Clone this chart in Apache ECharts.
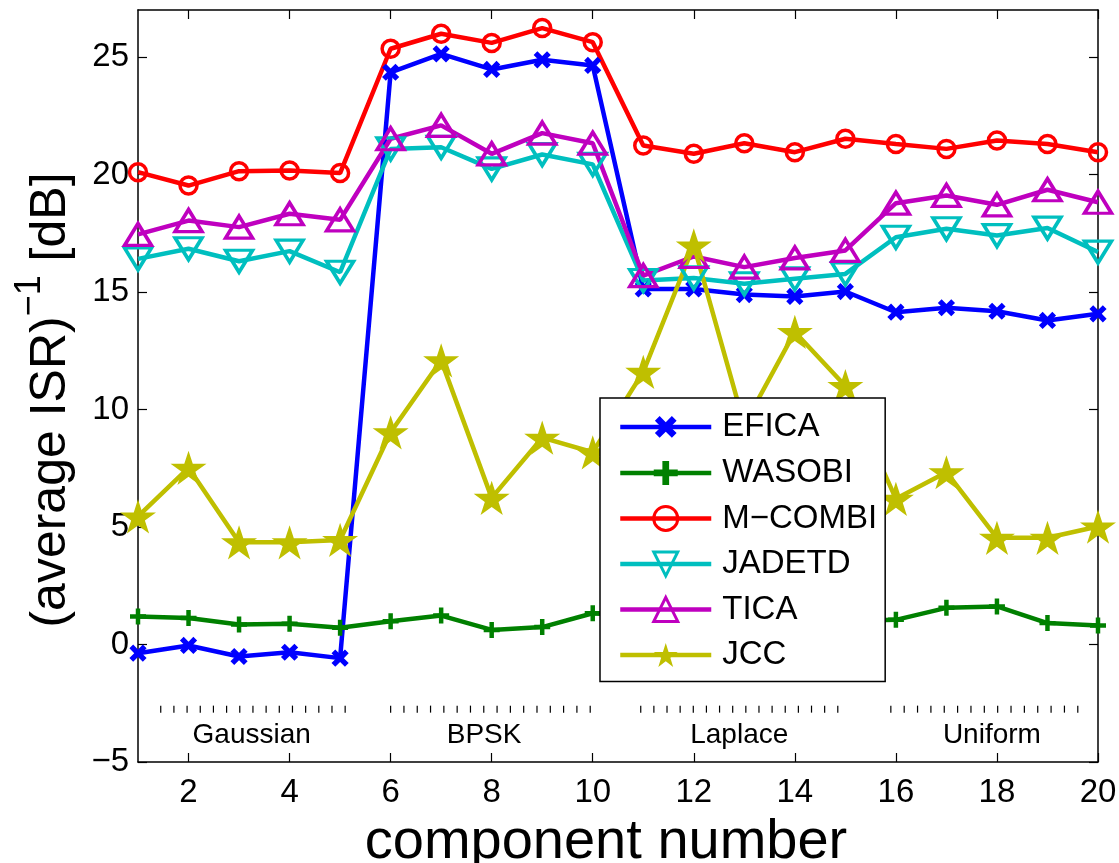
<!DOCTYPE html>
<html>
<head>
<meta charset="utf-8">
<script src="https://cdn.jsdelivr.net/npm/echarts@6/dist/echarts.min.js"></script>
<style>
html,body{margin:0;padding:0;background:#fff;}
#chart{width:1119px;height:863px;}
</style>
</head>
<body>
<div id="chart"></div>
<script>
// ---- data ----
const components = [1,2,3,4,5,6,7,8,9,10,11,12,13,14,15,16,17,18,19,20];
const EFICA  = [-0.37,-0.04,-0.51,-0.33,-0.58,24.35,25.13,24.47,24.88,24.64,15.13,15.13,14.89,14.81,15.02,14.14,14.33,14.18,13.79,14.07];
const WASOBI = [1.19,1.13,0.85,0.88,0.71,0.99,1.23,0.62,0.74,1.33,1.2,1.0,1.1,0.9,1.0,1.05,1.56,1.62,0.91,0.81];
const MCOMBI = [20.1,19.53,20.14,20.17,20.06,25.35,25.99,25.6,26.23,25.63,21.23,20.88,21.33,20.95,21.52,21.3,21.09,21.45,21.3,20.95];
const JADETD = [16.41,16.84,16.31,16.74,15.84,21.09,21.16,20.24,20.85,20.43,15.49,15.6,15.35,15.56,15.77,17.33,17.69,17.4,17.72,16.7];
const TICA   = [17.45,18.04,17.76,18.33,18.07,21.52,22.09,20.88,21.76,21.33,15.7,16.51,16.06,16.45,16.77,18.78,19.11,18.71,19.35,18.82];
const JCC    = [5.45,7.52,4.35,4.35,4.45,9.03,12.09,6.24,8.8,8.18,11.6,16.98,9.35,13.3,11.0,6.2,7.33,4.54,4.54,5.02];
const xTicks = [2,4,6,8,10,12,14,16,18,20];
const yTicks = [-5,0,5,10,15,20,25];
const groupNames = ['Gaussian','BPSK','Laplace','Uniform'];

// ---- layout constants for the group annotations ----
const groupTickFrom  = [1.45, 6.0, 10.95, 15.9];
const groupTickTo    = [5.1, 9.95, 14.85, 19.6];
const groupTickCount = [15, 16, 16, 15];
const groupLabelAt   = [3.25, 7.85, 12.9, 17.9];
const groupTickY = -2.75, groupLabelY = -3.87;

const FONT = "'Liberation Sans', Arial, Helvetica, sans-serif";
const plusPath = 'path://M3.6,0H6.4V3.6H10V6.4H6.4V10H3.6V6.4H0V3.6H3.6Z';
const starPath = 'path://M10,0L12.245,6.91L19.511,6.91L13.633,11.18L15.878,18.09L10,13.82L4.122,18.09L6.367,11.18L0.489,6.91L7.755,6.91Z';

function pts(arr){ return components.map((c,i)=>[c, arr[i]]); }

function mkSeries(name, arr, color, symbol, size, hollow, rotate){
  return {
    name, type:'line', data: pts(arr), xAxisIndex:0, yAxisIndex:0,
    symbol, symbolSize:size, symbolRotate: rotate || 0, symbolKeepAspect:true,
    color,
    lineStyle:{color, width:4.5},
    itemStyle: hollow ? {color:'transparent', borderColor:color, borderWidth:3.5}
                      : {color, borderWidth:0},
    emphasis:{disabled:true}, animation:false, z:2
  };
}

const chart = echarts.init(document.getElementById('chart'), null, {renderer:'canvas'});
const axisLine = {show:true, onZero:false, lineStyle:{color:'#000', width:1.5}};
const option = {
  backgroundColor:'#fff',
  animation:false,
  grid:{left:138, right:21, top:10, bottom:101, containLabel:false, outerBoundsMode:'none'},
  xAxis:[{
    type:'value', min:1, max:20, position:'bottom',
    axisLine, splitLine:{show:false},
    axisTick:{show:true, inside:true, length:9, customValues:xTicks, lineStyle:{color:'#000', width:1.2}},
    axisLabel:{customValues:xTicks, color:'#000', fontSize:33, fontFamily:FONT, margin:14},
    name:'component number', nameLocation:'middle', nameGap:53,
    nameTextStyle:{color:'#000', fontSize:56, fontFamily:FONT, padding:[0,24,0,0]}
  },{
    type:'value', min:1, max:20, position:'top',
    axisLine, splitLine:{show:false},
    axisTick:{show:true, inside:true, length:9, customValues:xTicks, lineStyle:{color:'#000', width:1.2}},
    axisLabel:{show:false}
  }],
  yAxis:[{
    type:'value', min:-5, max:27, position:'left',
    axisLine, splitLine:{show:false},
    axisTick:{show:true, inside:true, length:9, customValues:yTicks, lineStyle:{color:'#000', width:1.2}},
    axisLabel:{customValues:yTicks, color:'#000', fontSize:33, fontFamily:FONT, margin:9,
      formatter: v => (v<0 ? '\u2212'+Math.abs(v) : String(v))},
    name:'{a|(average ISR)}{s|\u22121}{a| [dB]}', nameLocation:'middle', nameGap:62, nameRotate:90,
    nameTextStyle:{color:'#000', fontFamily:FONT, padding:[0,28,0,0],
      rich:{a:{fontSize:50, lineHeight:64, fontFamily:FONT, color:'#000', verticalAlign:'bottom'},
            s:{fontSize:36, lineHeight:36, fontFamily:FONT, color:'#000', verticalAlign:'top'}}}
  },{
    type:'value', min:-5, max:27, position:'right',
    axisLine, splitLine:{show:false},
    axisTick:{show:true, inside:true, length:9, customValues:yTicks, lineStyle:{color:'#000', width:1.2}},
    axisLabel:{show:false}
  }],
  legend:{
    show:true, orient:'vertical', left:600, top:398,
    backgroundColor:'#fff', borderColor:'#000', borderWidth:1.5,
    padding:[12,8,10,18], itemWidth:91, itemHeight:30, itemGap:12.5,
    lineStyle:{width:4.5},
    itemStyle:{borderWidth:3},
    textStyle:{color:'#000', fontSize:33, fontFamily:FONT, padding:[0,0,0,6]},
    data:['EFICA','WASOBI','M\u2212COMBI','JADETD','TICA','JCC'],
    selectedMode:false, z:10
  },
  series:[
    mkSeries('EFICA', EFICA, '#0000ff', plusPath, 19, false, 45),
    mkSeries('WASOBI', WASOBI, '#008000', plusPath, 16, false, 0),
    mkSeries('M\u2212COMBI', MCOMBI, '#ff0000', 'circle', 17, true, 0),
    mkSeries('JADETD', JADETD, '#00bfbf', 'triangle', [27,22], true, 180),
    mkSeries('TICA', TICA, '#bf00bf', 'triangle', [27,22], true, 0),
    mkSeries('JCC', JCC, '#bfbf00', starPath, 36, false, 0)
  ]
};
chart.setOption(option);

// group annotations placed through the chart's own scales
const elements = [];
groupNames.forEach((g, i) => {
  const n = groupTickCount[i];
  for (let k = 0; k < n; k++) {
    const xv = groupTickFrom[i] + (groupTickTo[i] - groupTickFrom[i]) * k / (n - 1);
    const p = chart.convertToPixel({gridIndex:0}, [xv, groupTickY]);
    elements.push({type:'line', silent:true, z:5,
      shape:{x1:p[0], y1:p[1]-3.5, x2:p[0], y2:p[1]+3.5},
      style:{stroke:'#000', lineWidth:1.2}});
  }
  const q = chart.convertToPixel({gridIndex:0}, [groupLabelAt[i], groupLabelY]);
  elements.push({type:'text', silent:true, z:5, x:q[0], y:q[1],
    style:{text:g, fontSize:28, fontFamily:FONT, fill:'#000', align:'center', verticalAlign:'middle'}});
});
chart.setOption({graphic:{elements}});
</script>
</body>
</html>
